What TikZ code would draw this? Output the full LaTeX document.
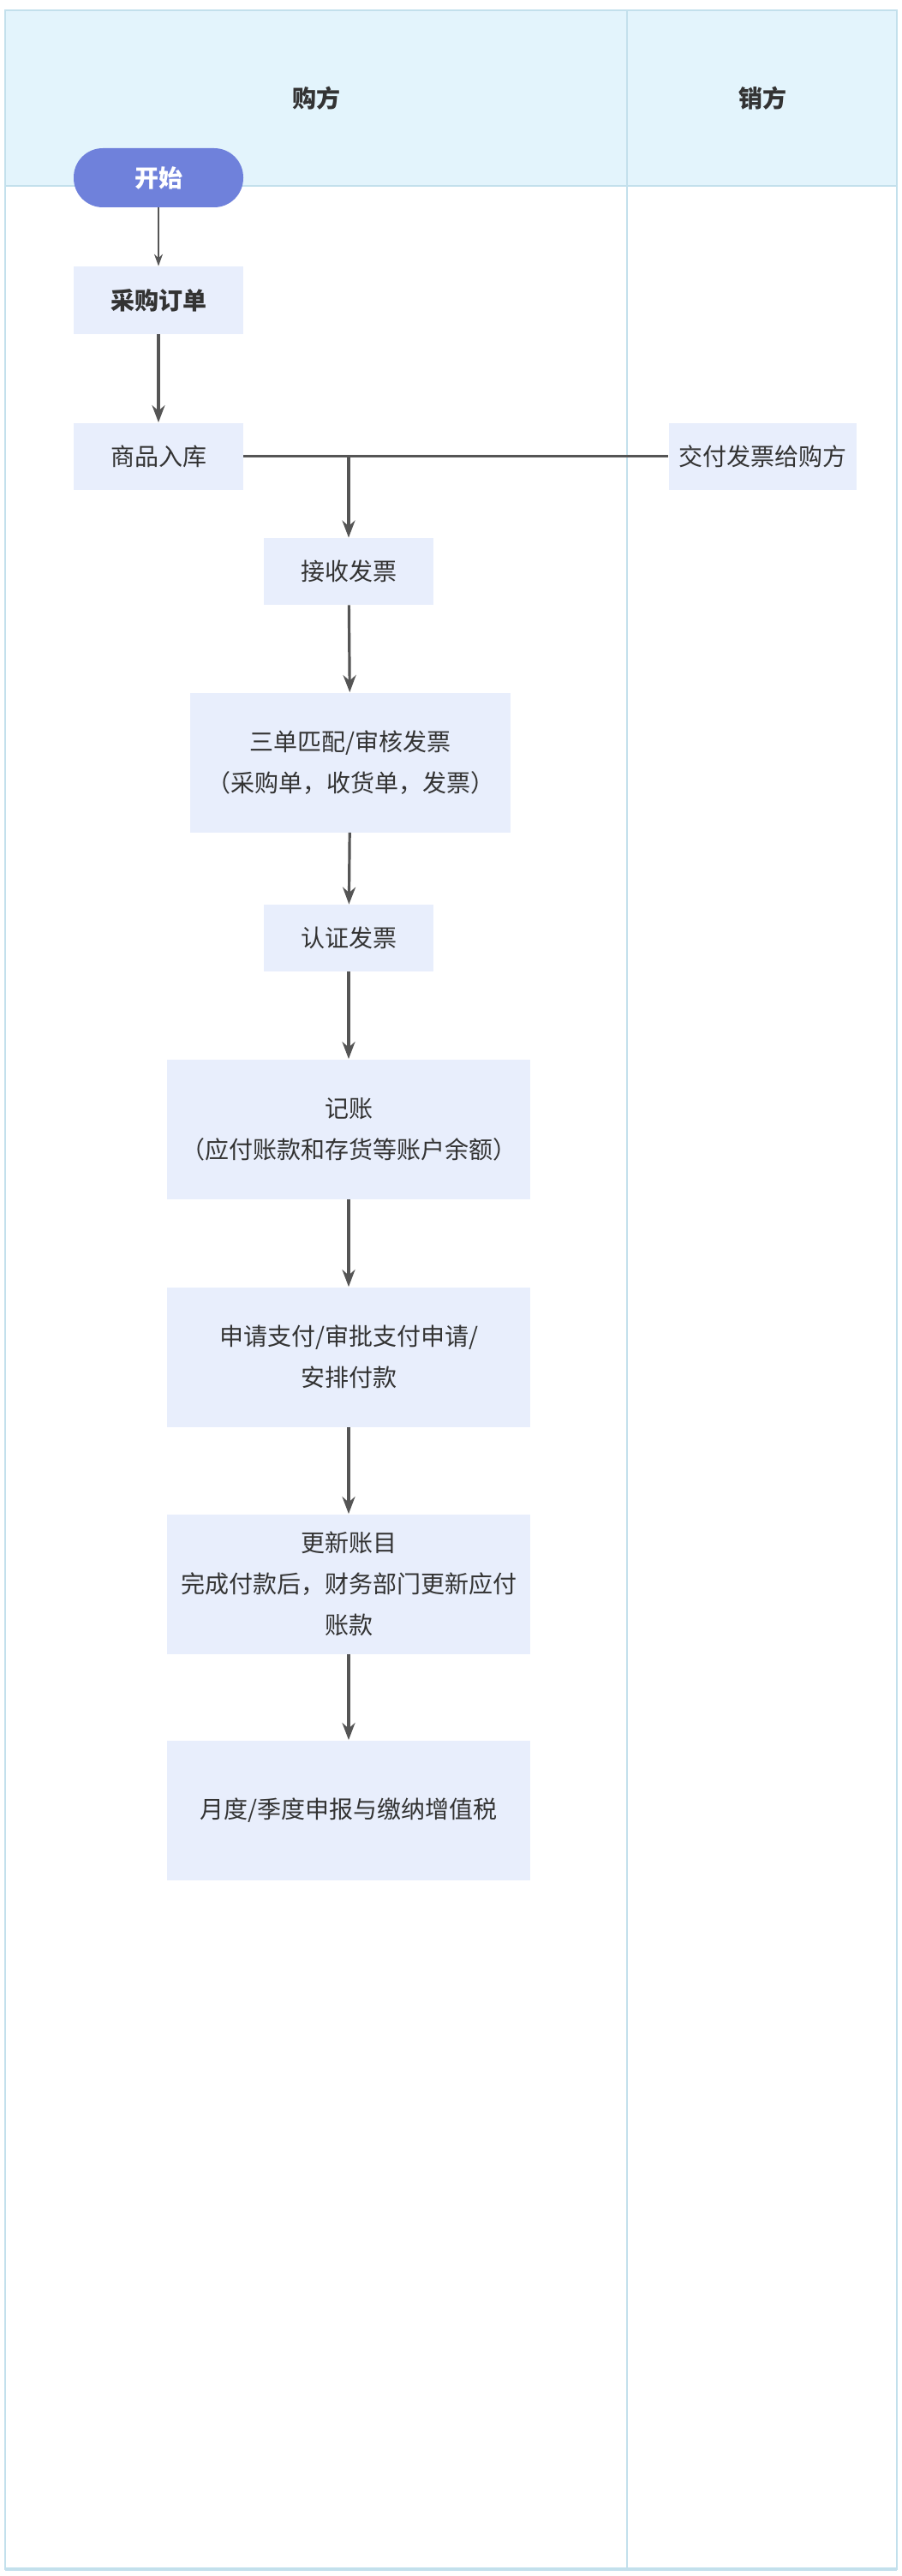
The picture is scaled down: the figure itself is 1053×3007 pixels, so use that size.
\documentclass[tikz,border=0pt]{standalone}
\usepackage{fontspec}
\setmainfont{Noto Sans CJK SC}
\usetikzlibrary{arrows.meta}

\definecolor{lanefill}{HTML}{E3F4FC}
\definecolor{laneline}{HTML}{C3E0EC}
\definecolor{taskfill}{HTML}{E8EEFC}
\definecolor{startfill}{HTML}{6F81DB}
\definecolor{txt}{HTML}{333333}
\definecolor{flow}{HTML}{555555}

\tikzstyle{lanehead} = [text=txt, font=\fontsize{14}{24}\selectfont\bfseries]
\tikzstyle{task} = [rectangle, inner sep=0pt, minimum width=99pt, minimum height=39pt, align=center, fill=taskfill, text=txt, font=\fontsize{14}{24}\selectfont]
\tikzstyle{bigtask} = [task, minimum width=212pt, minimum height=81.5pt]
\tikzstyle{startstop} = [rectangle, rounded corners=17pt, inner sep=0pt, minimum width=99pt, minimum height=34.5pt, fill=startfill, text=white, font=\fontsize{14}{24}\selectfont\bfseries]
\tikzstyle{flowline} = [draw=flow, line width=1.6pt]
\tikzstyle{arrow} = [flowline, -{Stealth[length=10pt, width=7.5pt]}]

\begin{document}
\begin{tikzpicture}[x=0.5pt, y=-0.5pt]
        \useasboundingbox (0,0) rectangle (1053,3007);
        % swim lanes
        \fill [lanefill] (6,12) rectangle (1047,217);
        \draw [laneline, line width=1pt] (6,12) rectangle (1047,2999);
        \draw [laneline, line width=1pt] (6,217) -- (1047,217);
        \draw [laneline, line width=1pt] (732,12) -- (732,2999);
        \draw [laneline, line width=2pt] (6,2999) -- (1047,2999);
        \node (buyer) at (369,115) [lanehead] {购方};
        \node (seller) at (890,115) [lanehead] {销方};

        \node (start) at (185,207.5) [startstop] {开始};
        \node (order) at (185,350.5) [task, minimum height=39.5pt, font=\fontsize{14}{24}\selectfont\bfseries] {采购订单};
        \node (stockin) at (185,532.5) [task] {商品入库};
        \node (deliver) at (890,532.5) [task, minimum width=109.5pt] {交付发票给购方};
        \node (receive) at (407,667) [task] {接收发票};
        \node (match) at (409,890) [bigtask, minimum width=187pt] {三单匹配/审核发票\\（采购单，收货单，发票）};
        \node (certify) at (407,1095) [task] {认证发票};
        \node (book) at (407,1318) [bigtask] {记账\\（应付账款和存货等账户余额）};
        \node (pay) at (407,1584) [bigtask] {申请支付/审批支付申请/\\安排付款};
        \node (update) at (407,1849) [bigtask] {更新账目\\完成付款后，财务部门更新应付\\账款};
        \node (tax) at (407,2113) [bigtask] {月度/季度申报与缴纳增值税};

        \draw [draw=flow, line width=0.8pt, -{Stealth[length=7pt, width=5pt]}] (start) -- (order);
        \draw [arrow] (order) -- (stockin);
        \draw [flowline] (stockin.east) -- (deliver.west);
        \coordinate (fork) at (receive.north |- stockin.east);
        \draw [arrow] (fork) -- (receive);
        \draw [arrow] (receive) -- (match);
        \draw [arrow] (match) -- (certify);
        \draw [arrow] (certify) -- (book);
        \draw [arrow] (book) -- (pay);
        \draw [arrow] (pay) -- (update);
        \draw [arrow] (update) -- (tax);
    \end{tikzpicture}
\end{document}
